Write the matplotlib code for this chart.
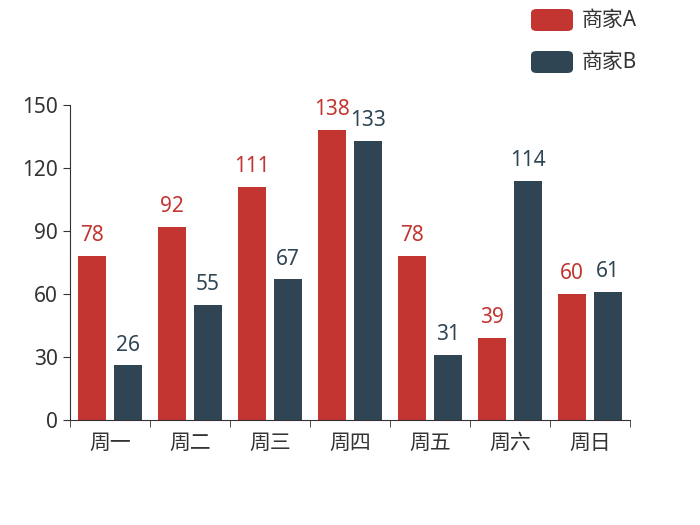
import numpy as np
import matplotlib.pyplot as plt
from matplotlib.patches import FancyBboxPatch

plt.rcParams['font.family'] = ['Noto Sans', 'Noto Sans CJK SC', 'DejaVu Sans']

days = ['周一', '周二', '周三', '周四', '周五', '周六', '周日']
seller_a = [78, 92, 111, 138, 78, 39, 60]
seller_b = [26, 55, 67, 133, 31, 114, 61]
names = ['商家A', '商家B']
colors = ['#c23531', '#2f4554']
text_color = '#333333'
fs = 15

fig = plt.figure(figsize=(7, 5.25), dpi=100)
ax = fig.add_axes([0.1, 0.2, 0.8, 0.6])

x = np.arange(len(days))
w = 0.35
off = 0.225
bars_a = ax.bar(x - off, seller_a, w, color=colors[0])
bars_b = ax.bar(x + off, seller_b, w, color=colors[1])
for bars, vals, c in [(bars_a, seller_a, colors[0]), (bars_b, seller_b, colors[1])]:
    for b, v in zip(bars, vals):
        ax.annotate(str(v), (b.get_x() + b.get_width() / 2, v), xytext=(0, 7),
                    textcoords='offset points', ha='center', va='bottom',
                    color=c, fontsize=fs)

ax.set_xlim(-0.5, len(days) - 0.5)
ax.set_ylim(0, 150)
ax.set_yticks([0, 30, 60, 90, 120, 150])
ax.set_xticks(x)
ax.set_xticklabels(days)
ax.set_xticks(np.arange(len(days) + 1) - 0.5, minor=True)
ax.tick_params(axis='x', which='major', length=0, pad=9, labelsize=fs, labelcolor=text_color)
ax.tick_params(axis='x', which='minor', length=5, color=text_color)
ax.tick_params(axis='y', length=5, color=text_color, labelsize=fs, labelcolor=text_color, pad=4)
for s in ['top', 'right']:
    ax.spines[s].set_visible(False)
for s in ['left', 'bottom']:
    ax.spines[s].set_color(text_color)

# legend drawn by hand (rounded swatches top right)
for i, (n, c) in enumerate(zip(names, colors)):
    y0 = 1 - (31 + 42 * i) / 525
    fig.patches.append(FancyBboxPatch((531 / 700, y0), 42 / 700, 22 / 525,
                                      boxstyle='round,pad=0,rounding_size=0.008',
                                      transform=fig.transFigure, facecolor=c,
                                      edgecolor='none'))
    fig.text(582 / 700, y0 + 11 / 525, n, ha='left', va='center',
             fontsize=fs, color=text_color)

fig.savefig('out.png', dpi=100)
